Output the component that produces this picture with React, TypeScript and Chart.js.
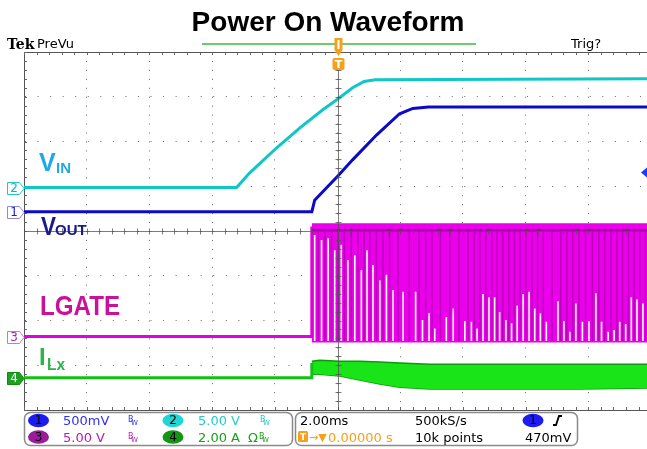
import React, { useEffect, useRef } from 'react';
import { Chart, registerables } from 'chart.js';
Chart.register(...registerables);

// time axis in ms (2 ms/div), vertical axis in screen divisions (-4..4)
const X_MIN = -10;
const X_MAX = 9.87;
const X_TICKS = [-10, -8, -6, -4, -2, 0, 2, 4, 6, 8];

const vinT = [-10, -3.22, -2.8, -1.94, -1.21, -0.47, 0.01, 0.48, 0.85, 1.2, 9.87];
const vinY = [0.97, 0.97, 1.3, 1.86, 2.3, 2.71, 2.95, 3.2, 3.34, 3.38, 3.4];

const voutT = [-10, -0.82, -0.73, 0.01, 0.48, 1.25, 1.98, 2.4, 2.9, 9.87];
const voutY = [0.43, 0.43, 0.69, 1.23, 1.59, 2.15, 2.62, 2.74, 2.77, 2.77];

const lgateT = [-10, -0.82, -0.82];
const lgateY = [-2.36, -2.36, 0.1];
const lgateBandT = [-0.82, 9.87];
const lgateHigh = [0.16, 0.16];
const lgateMid = [0.02, 0.02];
const lgateLow = [-2.48, -2.48];
const gapT = [-0.73, -0.51, -0.3, -0.09, 0.12, 0.33, 0.55, 0.76, 0.94, 1.13, 1.35, 1.56, 1.77,
  2.09, 2.49, 2.71, 2.92, 3.1, 3.47, 3.69, 4.06, 4.27, 4.45, 4.64, 4.83, 5.01, 5.17, 5.37, 5.55,
  5.73, 5.92, 6.11, 6.29, 6.47, 6.66, 7.03, 7.22, 7.41, 7.6, 7.81, 8.02, 8.24, 8.42, 8.63, 8.82,
  9.0, 9.19, 9.37, 9.55, 9.74];
const gapTop = [-0.09, -0.2, -0.16, -0.43, -0.31, -0.65, -0.54, -0.87, -0.43, -0.76, -1.1, -0.98, -1.32,
  -1.36, -1.36, -1.99, -1.84, -2.18, -1.92, -1.73, -2.01, -2.03, -2.18, -1.41, -1.48, -1.48, -1.81, -1.99, -2.06,
  -1.67, -1.41, -1.36, -1.73, -1.84, -2.03, -1.57, -2.01, -2.25, -1.62, -2.03, -2.01, -1.39, -2.03, -2.25, -2.21,
  -2.03, -2.08, -1.48, -1.53, -1.62];
const GAP_BOTTOM = -2.46;
// darker overlapping switching edges between the gaps
const edgeT = [-0.62, -0.4, -0.19, 0.02, 0.22, 0.44, 0.65, 0.85, 1.03, 1.24, 1.45, 1.66, 1.93, 2.29, 2.6,
  2.81, 3.01, 3.28, 3.58, 3.87, 4.16, 4.36, 4.54, 4.73, 4.92, 5.09, 5.27, 5.46, 5.64, 5.82, 6.01, 6.2,
  6.38, 6.56, 6.84, 7.12, 7.31, 7.5, 7.7, 7.91, 8.13, 8.33, 8.52, 8.72, 8.91, 9.09, 9.28, 9.46, 9.64, 9.82];
const EDGE_TOP = 0.05;
const EDGE_BOTTOM = -2.45;

const ilxT = [-10, -0.82, -0.82];
const ilxY = [-3.28, -3.28, -2.95];
const ilxBandT = [-0.82, -0.57, 0.07, 0.71, 1.35, 1.99, 2.94, 4.21, 5.81, 7.72, 9.87];
const ilxTop = [-2.91, -2.89, -2.91, -2.91, -2.93, -2.95, -2.98, -2.98, -2.98, -2.98, -2.98];
const ilxBottom = [-3.2, -3.2, -3.24, -3.33, -3.42, -3.49, -3.53, -3.53, -3.53, -3.53, -3.51];

const CH_REF = [0.43, 0.97, -2.36, -3.28]; // channel ground markers 1..4
const TRIG_LEVEL = 1.31;

const TITLE = 'Power On Waveform';
const HDR_LEFT = 'Tek';
const HDR_MODE = 'PreVu';
const HDR_RIGHT = 'Trig?';
const CH_SCALES = ['500mV', '5.00 V', '5.00 V', '2.00 A'];
const TIMEBASE = '2.00ms';
const SAMPLE_RATE = '500kS/s';
const TRIG_POS = '0.00000 s';
const RECORD = '10k points';
const TRIG_VAL = '470mV';

const pts = (xs: number[], ys: number[]) => xs.map((x, i) => ({ x, y: ys[i] }));

const stripes = (ts: number[], tops: number[] | number, bottom: number) => {
  const out: any[] = [];
  ts.forEach((t, i) => {
    out.push({ x: t, y: bottom });
    out.push({ x: t, y: Array.isArray(tops) ? tops[i] : tops });
    out.push({ x: t, y: null });
  });
  return out;
};

const SANS = '"DejaVu Sans", sans-serif';

const scopePlugin = {
  id: 'scope',
  beforeDatasetsDraw(chart: any) {
    const ctx = chart.ctx;
    const xs = chart.scales.x, ys = chart.scales.y;
    const { left, right, top, bottom } = chart.chartArea;
    ctx.save();
    ctx.strokeStyle = '#555';
    ctx.lineWidth = 1;
    ctx.beginPath();
    ctx.moveTo(left, top + 0.5);
    ctx.lineTo(right, top + 0.5);
    ctx.stroke();
    ctx.strokeStyle = '#666';
    ctx.beginPath();
    for (let i = 0; i <= 50; i++) {
      const t = X_MIN + i * 0.4;
      if (t > X_MAX) break;
      const x = Math.round(xs.getPixelForValue(t)) + 0.5;
      ctx.moveTo(x, top);
      ctx.lineTo(x, top + 3);
      ctx.moveTo(x, bottom);
      ctx.lineTo(x, bottom - 3);
    }
    for (let j = 0; j <= 40; j++) {
      const v = -4 + j * 0.2;
      const y = Math.round(ys.getPixelForValue(v)) + 0.5;
      ctx.moveTo(left, y);
      ctx.lineTo(left + 3, y);
    }
    ctx.stroke();
    ctx.restore();
  },
  afterDatasetsDraw(chart: any) {
    const ctx = chart.ctx;
    const xs = chart.scales.x, ys = chart.scales.y;
    const { left, right, top, bottom } = chart.chartArea;
    const px = (t: number) => xs.getPixelForValue(t);
    const py = (v: number) => ys.getPixelForValue(v);
    ctx.save();

    // crosshair
    const cx = Math.round(px(0)) + 0.5;
    const cy = Math.round(py(0)) + 0.5;
    ctx.strokeStyle = 'rgba(80,80,80,0.75)';
    ctx.lineWidth = 1;
    ctx.beginPath();
    ctx.moveTo(left, cy);
    ctx.lineTo(right, cy);
    ctx.moveTo(cx, top + 17);
    ctx.lineTo(cx, bottom);
    for (let i = 0; i <= 50; i++) {
      const t = X_MIN + i * 0.4;
      if (t > X_MAX) break;
      const x = Math.round(px(t)) + 0.5;
      ctx.moveTo(x, cy - 3);
      ctx.lineTo(x, cy + 3);
    }
    for (let j = 0; j <= 40; j++) {
      const y = Math.round(py(-4 + j * 0.2)) + 0.5;
      if (y < top + 18) continue;
      ctx.moveTo(cx - 3, y);
      ctx.lineTo(cx + 3, y);
    }
    ctx.stroke();

    // title
    ctx.fillStyle = '#000';
    ctx.textBaseline = 'alphabetic';
    ctx.textAlign = 'center';
    ctx.font = 'bold 28px "Liberation Sans", Arial, sans-serif';
    ctx.fillText(TITLE, 328, 31, 294);

    // header
    ctx.textAlign = 'left';
    ctx.font = 'bold 14px "DejaVu Serif", serif';
    ctx.fillText(HDR_LEFT, 7, 49);
    ctx.font = '13px ' + SANS;
    ctx.fillText(HDR_MODE, 37, 48);
    ctx.fillText(HDR_RIGHT, 571, 48);
    ctx.strokeStyle = '#3cb83c';
    ctx.lineWidth = 1.5;
    ctx.beginPath();
    ctx.moveTo(202, 44);
    ctx.lineTo(476, 44);
    ctx.stroke();

    // trigger position marker
    const orange = '#f5a01a';
    ctx.fillStyle = orange;
    ctx.beginPath();
    ctx.moveTo(cx - 4, 38);
    ctx.lineTo(cx + 4, 38);
    ctx.lineTo(cx + 4, 50);
    ctx.lineTo(cx, 56);
    ctx.lineTo(cx - 4, 50);
    ctx.closePath();
    ctx.fill();
    ctx.fillStyle = '#fff';
    ctx.fillRect(cx - 1, 40, 2, 9);
    ctx.fillStyle = orange;
    ctx.beginPath();
    ctx.roundRect(cx - 6, 58, 12, 12, 2);
    ctx.fill();
    ctx.fillStyle = '#fff';
    ctx.font = 'bold 11px ' + SANS;
    ctx.textAlign = 'center';
    ctx.fillText('T', cx, 68);

    // channel reference markers
    const markers = [
      { v: CH_REF[0], n: '1', stroke: '#8a8ad8', fill: '#fff', text: '#2020c0' },
      { v: CH_REF[1], n: '2', stroke: '#20c8c8', fill: '#fff', text: '#10b8b8' },
      { v: CH_REF[2], n: '3', stroke: '#d070d0', fill: '#fff', text: '#b020b0' },
      { v: CH_REF[3], n: '4', stroke: '#108a10', fill: '#20a020', text: '#fff' },
    ];
    ctx.font = '12px ' + SANS;
    ctx.lineWidth = 1;
    markers.forEach((m) => {
      const y = Math.round(py(m.v)) + 0.5;
      ctx.beginPath();
      ctx.moveTo(7.5, y - 6);
      ctx.lineTo(19.5, y - 6);
      ctx.lineTo(24, y);
      ctx.lineTo(19.5, y + 6);
      ctx.lineTo(7.5, y + 6);
      ctx.closePath();
      ctx.fillStyle = m.fill;
      ctx.fill();
      ctx.strokeStyle = m.stroke;
      ctx.stroke();
      ctx.fillStyle = m.text;
      ctx.textAlign = 'center';
      ctx.textBaseline = 'middle';
      ctx.fillText(m.n, 14, y + 0.5);
    });
    ctx.textBaseline = 'alphabetic';

    // trigger level marker
    const ty = py(TRIG_LEVEL);
    ctx.fillStyle = '#1a3cff';
    ctx.beginPath();
    ctx.moveTo(641, ty);
    ctx.lineTo(647, ty - 5);
    ctx.lineTo(647, ty + 5);
    ctx.closePath();
    ctx.fill();

    // signal labels
    ctx.textAlign = 'left';
    const lab = 'Liberation Sans", Arial, sans-serif';
    ctx.fillStyle = '#22a8e8';
    ctx.font = 'bold 25px "' + lab;
    ctx.fillText('V', 39, 171, 17);
    ctx.font = 'bold 15px "' + lab;
    ctx.fillText('IN', 56, 173, 15);
    ctx.fillStyle = '#1a1a8c';
    ctx.font = 'bold 26px "' + lab;
    ctx.fillText('V', 41, 235, 15);
    ctx.font = 'bold 15px "' + lab;
    ctx.fillText('OUT', 55, 235, 35);
    ctx.fillStyle = '#cc1199';
    ctx.font = 'bold 27px "' + lab;
    ctx.fillText('LGATE', 40, 315, 80);
    ctx.fillStyle = '#2db34a';
    ctx.font = 'bold 24px "' + lab;
    ctx.fillText('I', 39, 365, 8);
    ctx.font = 'bold 16px "' + lab;
    ctx.fillText('Lx', 47, 370, 18);

    // bottom status panels
    ctx.strokeStyle = '#8a8a8a';
    ctx.lineWidth = 1.5;
    ctx.beginPath();
    ctx.roundRect(24.5, 412.5, 268, 33, 6);
    ctx.stroke();
    ctx.beginPath();
    ctx.roundRect(295.5, 412.5, 282, 33, 6);
    ctx.stroke();

    const r1 = 425, r2 = 441.5;
    const badge = (x: number, y: number, color: string, n: string) => {
      ctx.fillStyle = color;
      ctx.beginPath();
      ctx.ellipse(x, y, 10.5, 6.8, 0, 0, Math.PI * 2);
      ctx.fill();
      ctx.fillStyle = '#000';
      ctx.font = '12px ' + SANS;
      ctx.textAlign = 'center';
      ctx.textBaseline = 'middle';
      ctx.fillText(n, x, y + 0.5);
      ctx.textBaseline = 'alphabetic';
      ctx.textAlign = 'left';
    };
    const bw = (x: number, y: number, color: string) => {
      ctx.fillStyle = color;
      ctx.font = '8px ' + SANS;
      ctx.fillText('B', x, y - 3);
      ctx.font = '7px ' + SANS;
      ctx.fillText('W', x + 3, y);
    };
    badge(38.5, 420.5, '#1c1cf0', '1');
    badge(173, 420.5, '#1fd6d6', '2');
    badge(38.5, 437, '#9b1c9b', '3');
    badge(173, 437, '#149614', '4');
    ctx.font = '13px ' + SANS;
    ctx.fillStyle = '#3030f0';
    ctx.fillText(CH_SCALES[0], 63, r1);
    ctx.fillStyle = '#22cccc';
    ctx.font = '13px ' + SANS;
    ctx.fillText(CH_SCALES[1], 198, r1);
    ctx.fillStyle = '#b21cb2';
    ctx.font = '13px ' + SANS;
    ctx.fillText(CH_SCALES[2], 63, r2);
    ctx.fillStyle = '#18a018';
    ctx.font = '13px ' + SANS;
    ctx.fillText(CH_SCALES[3], 198, r2);
    ctx.fillText('Ω', 248, r2);
    bw(128, r1, '#3030f0');
    bw(260, r1, '#22cccc');
    bw(128, r2, '#b21cb2');
    bw(259, r2, '#18a018');

    ctx.fillStyle = '#000';
    ctx.font = '13px ' + SANS;
    ctx.fillText(TIMEBASE, 300, r1);
    ctx.fillText(SAMPLE_RATE, 415, r1);
    ctx.fillText(RECORD, 415, r2);
    ctx.fillText(TRIG_VAL, 525, r2);
    badge(533, 420.5, '#1c1cf0', '1');
    ctx.strokeStyle = '#000';
    ctx.lineWidth = 1.8;
    ctx.beginPath();
    ctx.moveTo(553, 425);
    ctx.lineTo(556, 425);
    ctx.lineTo(559, 416);
    ctx.lineTo(562, 416);
    ctx.stroke();

    ctx.fillStyle = orange;
    ctx.beginPath();
    ctx.roundRect(298, 431, 10, 11, 1.5);
    ctx.fill();
    ctx.fillStyle = '#fff';
    ctx.font = 'bold 9px ' + SANS;
    ctx.textAlign = 'center';
    ctx.fillText('T', 303, 440);
    ctx.textAlign = 'left';
    ctx.fillStyle = orange;
    ctx.font = '11px ' + SANS;
    ctx.fillText('→▼', 309, r2 - 1);
    ctx.font = '13px ' + SANS;
    ctx.fillText(TRIG_POS, 328, r2);

    ctx.restore();
  },
};

export default function App() {
  const ref = useRef<HTMLCanvasElement | null>(null);
  useEffect(() => {
    if (!ref.current) return;
    const line = (data: any[], color: string, width: number, order: number, extra: any = {}) => ({
      type: 'line',
      data,
      borderColor: color,
      backgroundColor: color,
      borderWidth: width,
      pointRadius: 0,
      tension: 0,
      fill: false,
      order,
      ...extra,
    });
    const chart = new Chart(ref.current, {
      type: 'line',
      data: {
        datasets: [
          line(pts(lgateBandT, lgateHigh), '#e400e4', 1, 6, { fill: '+1', backgroundColor: '#ea00ea' }),
          line(pts(lgateBandT, lgateLow), '#e400e4', 1, 6),
          line(stripes(edgeT, EDGE_TOP, EDGE_BOTTOM), 'rgba(150,0,150,0.55)', 1.5, 5, { spanGaps: false }),
          line(stripes(gapT, gapTop, GAP_BOTTOM), '#ffffff', 1.6, 4, { spanGaps: false }),
          line(pts(lgateBandT, lgateMid), '#980098', 1.5, 3),
          line(pts(lgateT, lgateY), '#e000e0', 3, 3),
          line(pts(ilxBandT, ilxTop), '#0c9a0c', 1.5, 2, { fill: '+1', backgroundColor: '#18e418' }),
          line(pts(ilxBandT, ilxBottom), '#0c9a0c', 1.5, 2),
          line(pts(ilxT, ilxY), '#12c012', 3, 1),
          line(pts(voutT, voutY), '#0a0ac8', 3, 0),
          line(pts(vinT, vinY), '#10c6c6', 3, 0),
        ],
      },
      options: {
        animation: false,
        responsive: false,
        events: [],
        layout: { padding: { left: 24, top: 52, right: 0, bottom: 39 } },
        plugins: { legend: { display: false }, tooltip: { enabled: false }, title: { display: false } },
        scales: {
          x: {
            type: 'linear',
            min: X_MIN,
            max: X_MAX,
            offset: false,
            afterBuildTicks: (s: any) => {
              s.ticks = X_TICKS.map((v) => ({ value: v }));
            },
            ticks: { display: false },
            grid: { color: '#6a6a6a', lineWidth: 1, drawTicks: false, offset: false },
            border: { display: true, color: '#555', width: 1, dash: [1, 7.95] },
          },
          y: {
            type: 'linear',
            min: -4,
            max: 4,
            ticks: { display: false, stepSize: 1 },
            grid: { color: '#6a6a6a', lineWidth: 1, drawTicks: false },
            border: { display: true, color: '#555', width: 1, dash: [1, 11.55] },
          },
        },
      },
      plugins: [scopePlugin],
    } as any);
    return () => chart.destroy();
  }, []);
  return (
    <div style={{ position: 'fixed', left: 0, top: 0, width: 647, height: 449, background: '#fff', overflow: 'hidden' }}>
      <canvas ref={ref} width={647} height={449} style={{ display: 'block' }} />
    </div>
  );
}
